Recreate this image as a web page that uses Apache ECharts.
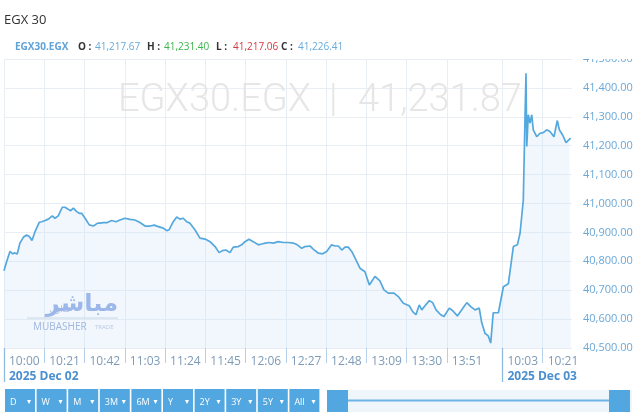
<!DOCTYPE html>
<html><head><meta charset="utf-8">
<script src="https://cdn.jsdelivr.net/npm/echarts@6/dist/echarts.min.js"></script>
<style>html,body{margin:0;padding:0;background:#fff}#c{width:640px;height:412px}</style>
</head><body><div id="c"></div>
<script>
// ---- data ----
const chartTitle = 'EGX 30';
const symbolName = 'EGX30.EGX';
const ohlcKeys = ['O', 'H', 'L', 'C'];
const ohlcValues = [41217.67, 41231.40, 41217.06, 41226.41];
const lastPrice = 41231.87;
const tickSlots = [0, 21, 42, 63, 84, 105, 126, 147, 168, 189, 210, 231, 260, 281];
const tickLabels = ['10:00', '10:21', '10:42', '11:03', '11:24', '11:45', '12:06', '12:27', '12:48', '13:09', '13:30', '13:51', '10:03', '10:21'];
const daySlots = [0, 260];
const dayLabels = ['2025 Dec 02', '2025 Dec 03'];
const pointSlot = [0, 1.4, 3.1, 4.5, 5.7, 6.9, 8.3, 10.1, 11.8, 13.2, 14.6, 16.2, 17.1, 18.4, 19.7, 21.4, 23.1, 25.2, 26.6, 28.3,
  30.4, 31.8, 33.5, 34.8, 36.2, 37.9, 39.3, 40.5, 42.3, 44.5, 46.6, 48.9, 50.1, 51.8, 53.9, 56.2, 58.4, 60.5, 63.1, 65.7,
  68.3, 70.9, 73.6, 76.2, 78.4, 80.5, 83.1, 84.9, 86.1, 88.3, 90.1, 91.8, 93.5, 95.3, 97.0, 99.6, 102.2, 104.9, 107.5, 110.1,
  112.2, 113.9, 115.8, 117.9, 119.6, 122.2, 124.0, 125.7, 127.8, 130.0, 132.7, 134.4, 136.2, 138.4, 140.5, 143.1, 145.7, 148.3, 150.9, 153.0,
  155.3, 157.0, 159.6, 161.3, 164.0, 166.2, 168.3, 170.9, 172.7, 174.4, 176.2, 177.9, 179.6, 181.4, 183.6, 185.7, 188.3, 190.6, 191.8, 193.5,
  196.1, 198.2, 200.5, 203.4, 205.7, 208.3, 211.4, 213.2, 214.9, 216.6, 217.9, 219.6, 221.9, 223.6, 225.4, 227.8, 229.5, 232.3, 234.1, 236.5,
  238.8, 241.4, 243.5, 245.7, 247.9, 249.2, 250.9, 252.6, 253.9, 255.2, 257.9, 258.7, 260.5, 263.1, 265.7, 267.8, 269.2, 270.9, 271.8, 272.3,
  272.7, 273.5, 274.4, 275.3, 276.1, 277.9, 279.6, 281.3, 283.1, 284.8, 286.9, 288.6, 289.7, 291.4, 293.2, 294.9, 295.6];
const price = [40767, 40799, 40834, 40826, 40829, 40825, 40863, 40883, 40891, 40886, 40872, 40903, 40909, 40935, 40937, 40941, 40946, 40957, 40949, 40957,
  40987, 40987, 40980, 40975, 40984, 40972, 40966, 40966, 40949, 40926, 40922, 40932, 40932, 40934, 40934, 40941, 40937, 40943, 40949, 40945,
  40943, 40934, 40922, 40922, 40925, 40920, 40915, 40906, 40909, 40937, 40953, 40946, 40949, 40937, 40932, 40909, 40880, 40877, 40868, 40851,
  40830, 40837, 40839, 40830, 40849, 40851, 40857, 40868, 40876, 40868, 40857, 40860, 40863, 40865, 40863, 40868, 40865, 40865, 40863, 40857,
  40845, 40851, 40853, 40842, 40828, 40826, 40834, 40857, 40853, 40853, 40839, 40849, 40849, 40834, 40805, 40776, 40764, 40718, 40730, 40748,
  40732, 40701, 40690, 40690, 40678, 40655, 40646, 40626, 40615, 40649, 40632, 40646, 40664, 40657, 40632, 40615, 40609, 40638, 40629, 40611,
  40632, 40657, 40643, 40632, 40638, 40588, 40551, 40542, 40517, 40622, 40622, 40626, 40712, 40722, 40851, 40857, 40897, 41012, 41301, 41451,
  41197, 41307, 41278, 41307, 41255, 41231, 41243, 41245, 41255, 41249, 41231, 41287, 41255, 41237, 41211, 41222, 41226];
const rangeButtons = ['D', 'W', 'M', '3M', '6M', 'Y', '2Y', '3Y', '5Y', 'All'];

// ---- chart ----
const fmt = v => v.toLocaleString('en-US', { minimumFractionDigits: 2, maximumFractionDigits: 2 });
const FONT = "'Open Sans', 'Liberation Sans', sans-serif";
const chart = echarts.init(document.getElementById('c'), null, { renderer: 'canvas' });

const g = [];
// title
g.push({ type: 'text', x: 4, y: 20, z: 10, style: { text: chartTitle, font: "13px " + FONT, fill: '#333', textVerticalAlign: 'middle' } });
// legend row
const ohlcColors = ['#6aaad9', '#3cb44b', '#d9393e', '#6aaad9'];
const keyX = [78, 147, 216, 281];
g.push({ type: 'text', x: 15, y: 47, z: 10, style: { text: symbolName, font: "bold 10px " + FONT, fill: '#5fa3d9', textVerticalAlign: 'middle' } });
ohlcKeys.forEach((k, i) => {
  g.push({ type: 'text', x: keyX[i], y: 47, z: 10, style: { text: k + ' :', font: "bold 10px " + FONT, fill: '#333', textVerticalAlign: 'middle' } });
  g.push({ type: 'text', x: keyX[i] + 17, y: 47, z: 10, style: { text: fmt(ohlcValues[i]), font: "10px " + FONT, fill: ohlcColors[i], textVerticalAlign: 'middle' } });
});
// watermark
const wmFont = "300 38px Roboto, " + FONT;
g.push({ type: 'text', x: 118, y: 101, z: 1, silent: true, style: { text: symbolName, font: wmFont, fill: '#e6e6e6', textVerticalAlign: 'middle' } });
g.push({ type: 'text', x: 329, y: 101, z: 1, silent: true, style: { text: '|', font: wmFont, fill: '#e6e6e6', textVerticalAlign: 'middle' } });
g.push({ type: 'text', x: 358, y: 101, z: 1, silent: true, style: { text: fmt(lastPrice), font: wmFont, fill: '#e6e6e6', textVerticalAlign: 'middle' } });
// logo
g.push({ type: 'text', x: 118, y: 305, z: 3, silent: true, style: { text: 'مباشر', font: "bold 24px 'DejaVu Sans'", fill: '#7598e0', opacity: 0.85, textAlign: 'right', textVerticalAlign: 'middle' } });
g.push({ type: 'text', x: 70, y: 310, z: 3, silent: true, style: { text: 'تداول', font: "9px 'DejaVu Sans'", fill: '#8aa4dc', opacity: 0.85, textAlign: 'right', textVerticalAlign: 'middle' } });
g.push({ type: 'line', z: 3, silent: true, shape: { x1: 27, y1: 318, x2: 118, y2: 318 }, style: { stroke: '#c9d3e4', lineWidth: 1 } });
g.push({ type: 'text', x: 33, y: 327, z: 3, silent: true, style: { text: 'MUBASHER', font: "10px " + FONT, fill: '#8ea7d8', textVerticalAlign: 'middle' } });
g.push({ type: 'text', x: 95, y: 327, z: 3, silent: true, style: { text: 'TRADE', font: "6px " + FONT, fill: '#b1c0e0', textVerticalAlign: 'middle' } });
// clip of top axis label
g.push({ type: 'rect', z: 20, shape: { x: 574, y: 48, width: 66, height: 11 }, style: { fill: '#fff' } });
// range buttons
rangeButtons.forEach((b, i) => {
  const bx = 5 + i * 31.6;
  g.push({ type: 'rect', z: 10, shape: { x: bx, y: 389, width: 30, height: 24 }, style: { fill: '#52a7e0' } });
  g.push({ type: 'text', x: bx + 5, y: 402, z: 11, style: { text: b, font: "9px " + FONT, fill: '#fff', textVerticalAlign: 'middle' } });
  g.push({ type: 'text', x: bx + 24, y: 402, z: 11, style: { text: '▾', font: "8px 'DejaVu Sans'", fill: '#fff', textAlign: 'center', textVerticalAlign: 'middle' } });
});
// navigator slider
g.push({ type: 'rect', z: 10, shape: { x: 327, y: 390, width: 305, height: 23 }, style: { fill: '#eef5fb' } });
g.push({ type: 'line', z: 11, shape: { x1: 348, y1: 400.5, x2: 609, y2: 400.5 }, style: { stroke: '#6cb3e6', lineWidth: 2 } });
g.push({ type: 'rect', z: 12, shape: { x: 327, y: 390, width: 21, height: 23 }, style: { fill: '#52a7e0' } });
g.push({ type: 'rect', z: 12, shape: { x: 609, y: 390, width: 21, height: 23 }, style: { fill: '#52a7e0' } });

const option = {
  animation: false,
  backgroundColor: '#fff',
  grid: { left: 4, right: 68, top: 59, bottom: 64, containLabel: false },
  xAxis: [{
    type: 'value', min: 0, max: 296.3, position: 'bottom',
    axisLine: { show: false },
    axisTick: { show: true, customValues: tickSlots, length: 15, lineStyle: { color: '#b3cfe9', width: 1 } },
    splitLine: { show: true, lineStyle: { color: '#e8eef4', width: 1 } },
    axisLabel: {
      customValues: tickSlots, align: 'left', margin: 8, padding: [0, 0, 0, 5],
      showMinLabel: true, showMaxLabel: true, hideOverlap: false,
      color: '#7d9bb8', fontSize: 12, fontFamily: FONT,
      formatter: (v) => tickLabels[tickSlots.indexOf(v)]
    }
  }, {
    type: 'value', min: 0, max: 296.3, position: 'bottom', offset: 0,
    axisLine: { show: false },
    axisTick: { show: true, customValues: daySlots, length: 34, lineStyle: { color: '#8fbbe3', width: 1.3 } },
    axisLabel: {
      customValues: daySlots, align: 'left', margin: 23, padding: [0, 0, 0, 5],
      showMinLabel: true, showMaxLabel: true,
      color: '#4b8fcf', fontSize: 12, fontWeight: 'bold', fontFamily: FONT,
      formatter: (v) => dayLabels[daySlots.indexOf(v)]
    },
    splitLine: { show: false }
  }],
  yAxis: {
    type: 'value', position: 'right', min: 40500, max: 41500, interval: 100,
    axisLine: { show: false }, axisTick: { show: false },
    splitLine: { show: true, lineStyle: { color: '#e8eef4', width: 1 } },
    axisLabel: { margin: 11, color: '#6aa8d8', fontSize: 11, fontFamily: FONT, formatter: fmt }
  },
  series: [{
    type: 'line', xAxisIndex: 0, showSymbol: false, symbol: 'none', z: 5,
    data: pointSlot.map((s, i) => [s, price[i]]),
    lineStyle: { color: '#55a8de', width: 1.7 },
    areaStyle: { color: 'rgba(205,228,246,0.4)', origin: 'start' }
  }],
  graphic: g
};
chart.setOption(option);
</script></body></html>
